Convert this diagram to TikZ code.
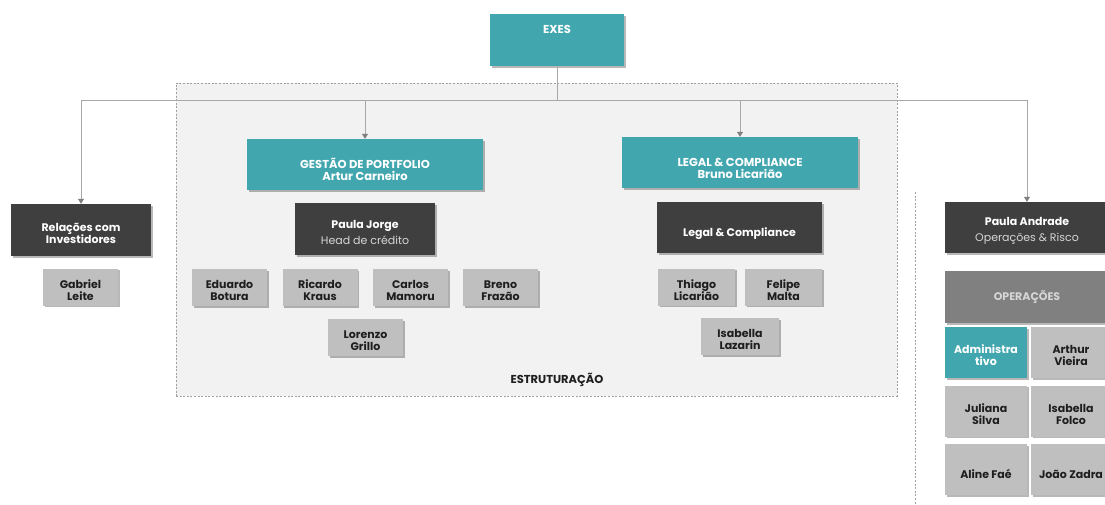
\documentclass[tikz,border=0pt]{standalone}
\usepackage{fontspec}
\setmainfont{Poppins}
\usetikzlibrary{arrows.meta,shadows}
\definecolor{tealbox}{HTML}{42A6AF}
\definecolor{darkbox}{HTML}{3F3F3F}
\definecolor{lightbox}{HTML}{BFBFBF}
\definecolor{midbox}{HTML}{808080}
\definecolor{areafill}{HTML}{F2F2F2}
\definecolor{conncol}{HTML}{A8A8A8}
\definecolor{tipcol}{HTML}{7F7F7F}
\definecolor{subtext}{HTML}{D6D6D6}
\definecolor{dashcol}{HTML}{A0A0A0}
\definecolor{nametext}{HTML}{1E1E1E}
\newcommand\tpstrut{\rule{0pt}{15pt}}
\newcommand\tpstrutb{\rule{0pt}{21pt}}
\newcommand\tpstrutc{\rule{0pt}{19pt}}
\begin{document}
\begin{tikzpicture}[x=1pt,y=-1pt,
  boxbase/.style={rectangle, inner sep=2pt, align=center,
    font=\fontsize{11}{12}\selectfont\bfseries,
    drop shadow={shadow xshift=1.6pt,shadow yshift=-1.6pt,opacity=0.28,fill=black}},
  tealnode/.style={boxbase, fill=tealbox, text=white, font=\fontsize{11.5}{12}\selectfont\bfseries},
  darknode/.style={boxbase, fill=darkbox, text=white},
  person/.style={boxbase, fill=lightbox, text=nametext, minimum width=75pt, minimum height=37pt},
  opsperson/.style={boxbase, fill=lightbox, text=nametext, minimum width=80pt, minimum height=51pt},
  conn/.style={draw=conncol, line width=0.8pt},
  tip/.style={-{Triangle[width=6pt,length=5pt,color=tipcol]}},
  plaintext/.style={font=\fontsize{11.5}{12}\selectfont\bfseries, inner sep=0pt},
]
\useasboundingbox (0,0) rectangle (1105,505);
\clip (0,0) rectangle (1105,505);

% area
\node[draw=dashcol, dash pattern=on 2pt off 1.6pt, line width=0.8pt, fill=areafill,
      minimum width=721pt, minimum height=313pt, inner sep=0pt] (area) at (536.5,239.5) {};
\node[plaintext, text=nametext] (estrut) at (557,380) {ESTRUTURAÇÃO};

% separator
\coordinate (septop) at (915,192);
\coordinate (sepbot) at (915,505);
\draw[draw=dashcol, dash pattern=on 2pt off 1.6pt, line width=0.8pt] (septop) -- (sepbot);

% top
\node[tealnode, minimum width=134pt, minimum height=52pt] (exes) at (557,40) {};
\node[plaintext, text=white] (exestext) at (557,29) {EXES};

% level 1
\node[darknode, minimum width=140pt, minimum height=52pt] (rel) at (81,230) {\tpstrut Relações com\\Investidores};
\node[tealnode, minimum width=236pt, minimum height=51pt] (gestao) at (365,164.5) {\tpstrutb GESTÃO DE PORTFOLIO\\Artur Carneiro};
\node[tealnode, minimum width=236pt, minimum height=51pt] (legal) at (740,162.5) {\tpstrutb LEGAL \& COMPLIANCE\\Bruno Licarião};
\node[darknode, minimum width=164pt, minimum height=51pt] (andrade) at (1027,227.5) {\tpstrut Paula Andrade\\[4pt]{\normalfont\color{subtext}Operações \& Risco}};

% connectors
\coordinate (bus) at (557,100);
\draw[conn] (exes.south) -- (bus);
\draw[conn,tip] (bus) -| (rel.north);
\draw[conn,tip] (bus) -| (gestao.north);
\draw[conn,tip] (bus) -| (legal.north);
\draw[conn,tip] (bus) -| (andrade.north);

% left column
\node[person] (gabriel) at (80.5,287) {\tpstrut Gabriel\\Leite};

% gestao
\node[darknode, minimum width=140pt, minimum height=52pt] (pjorge) at (365,229) {\tpstrut Paula Jorge\\[4pt]{\normalfont\color{subtext}Head de crédito}};
\node[person] (eduardo) at (229.5,287.5) {\tpstrut Eduardo\\Botura};
\node[person] (ricardo) at (320,287.5) {\tpstrut Ricardo\\Kraus};
\node[person] (carlos) at (410.5,287.5) {\tpstrut Carlos\\Mamoru};
\node[person] (breno) at (500.5,287.5) {\tpstrut Breno\\Frazão};
\node[person] (lorenzo) at (365.5,337.5) {\tpstrut Lorenzo\\Grillo};

% legal
\node[darknode, minimum width=165pt, minimum height=51pt] (lc) at (739.5,227.5) {\tpstrutb Legal \& Compliance};
\node[person, minimum width=77pt] (thiago) at (696.5,287) {\tpstrut Thiago\\Licarião};
\node[person, minimum width=77pt] (felipe) at (783.5,287) {\tpstrut Felipe\\Malta};
\node[person, minimum width=78pt] (isabellal) at (740,336.5) {\tpstrut Isabella\\Lazarin};

% operations
\node[boxbase, fill=midbox, text=subtext, minimum width=164pt, minimum height=52pt] (ops) at (1027,297) {OPERAÇÕES};
\node[boxbase, fill=tealbox, text=white, minimum width=82pt, minimum height=51pt] (adm) at (986,352.5) {\tpstrut Administra\\tivo};
\node[opsperson] (arthur) at (1071,352.5) {\tpstrut Arthur\\Vieira};
\node[opsperson, minimum width=82pt] (juliana) at (986,411) {\tpstrut Juliana\\Silva};
\node[opsperson] (isabellaf) at (1071,411) {\tpstrut Isabella\\Folco};
\node[opsperson, minimum width=82pt] (aline) at (986,469.5) {\tpstrutc Aline Faé};
\node[opsperson] (joao) at (1071,469.5) {\tpstrutc João Zadra};
\end{tikzpicture}
\end{document}
